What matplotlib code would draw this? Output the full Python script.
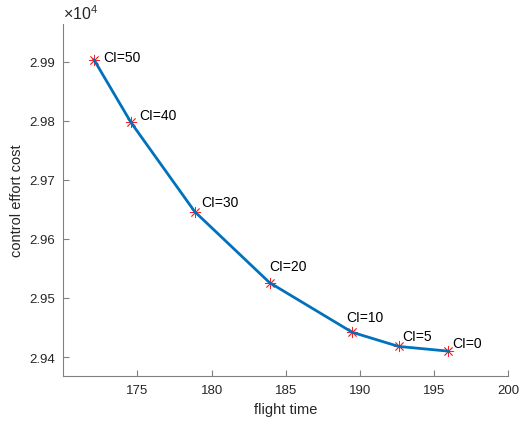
import matplotlib.pyplot as plt
from matplotlib.ticker import FuncFormatter

plt.rcParams['font.family'] = ['Liberation Sans', 'DejaVu Sans']
plt.rcParams['mathtext.fontset'] = 'custom'
plt.rcParams['mathtext.rm'] = 'Liberation Sans'
plt.rcParams['mathtext.it'] = 'Liberation Sans:italic'

# flight time vs control effort cost for several CI values
flight_time = [172.07, 174.56, 178.86, 183.9, 189.47, 192.6, 195.96]
effort_cost = [29903, 29797, 29646, 29526, 29442, 29418, 29410]
ci_labels = ['CI=50', 'CI=40', 'CI=30', 'CI=20', 'CI=10', 'CI=5', 'CI=0']

# label offsets in pixels (dx, dy)
label_offsets = [(9, 3), (8, 7), (7, 10), (0, 17), (-6, 15), (4, 10), (4, 8)]

fig = plt.figure(figsize=(5.23, 4.27), dpi=100)
ax = fig.add_axes([0.121, 0.117, 0.851, 0.8245])

ax.plot(flight_time, effort_cost, '-', color='#0072BD', linewidth=2, zorder=3)
ax.plot(flight_time, effort_cost, linestyle='none', marker=(8, 2, 0),
        markersize=8, markeredgewidth=0.6, color='#FF2020', zorder=2)

for x, y, lab, off in zip(flight_time, effort_cost, ci_labels, label_offsets):
    ax.annotate(lab, (x, y), xytext=(off[0] * 0.72, off[1] * 0.72),
                textcoords='offset points', fontsize=10, color='#000000',
                ha='left', va='center')

ax.set_xlim(170, 200)
ax.set_ylim(29367.9, 29963.5)
ax.set_xticks([175, 180, 185, 190, 195, 200])
ax.set_yticks([29400, 29500, 29600, 29700, 29800, 29900])
ax.yaxis.set_major_formatter(FuncFormatter(lambda v, p: '%.2f' % (v / 1e4)))

for s in ['top', 'right']:
    ax.spines[s].set_visible(False)
for s in ['left', 'bottom']:
    ax.spines[s].set_color('#808080')
    ax.spines[s].set_linewidth(0.8)

ax.tick_params(direction='in', length=4, width=0.8, color='#808080',
               labelsize=9.5, labelcolor='#262626', pad=6)

ax.set_xlabel('flight time', fontsize=10.5, color='#262626')
ax.set_ylabel('control effort cost', fontsize=10.5, color='#262626')

ax.text(0.0, 1.005, r'$\times\mathregular{10^{4}}$', transform=ax.transAxes,
        fontsize=11.5, color='#262626', ha='left', va='bottom')

fig.savefig('out.png', dpi=100)
